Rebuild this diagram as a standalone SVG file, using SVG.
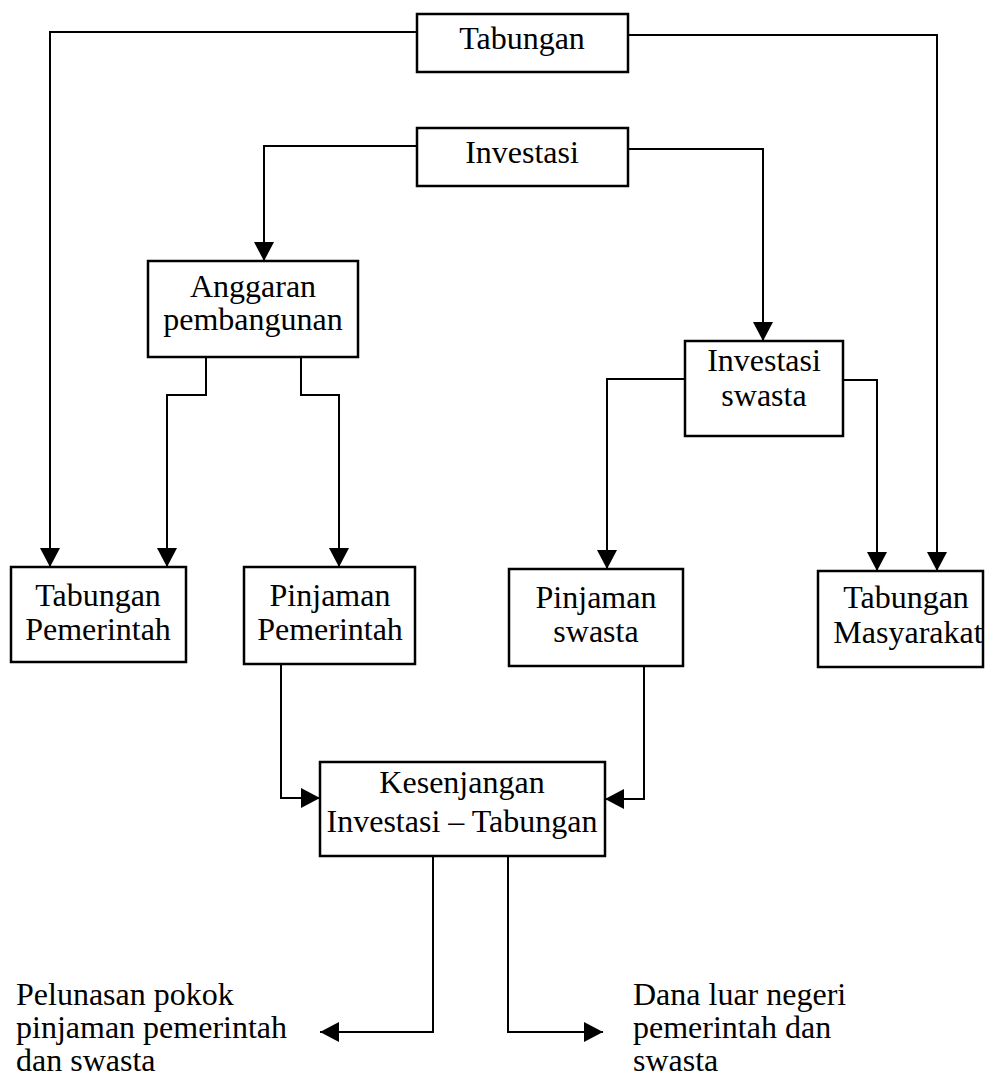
<svg xmlns="http://www.w3.org/2000/svg" width="985" height="1083" viewBox="0 0 985 1083">
<style>
.box{fill:#fff;stroke:#000;stroke-width:2.5}
.lbl{font-family:"Liberation Serif","Times New Roman",serif;font-size:32px;fill:#000}
.c{text-anchor:middle}
.conn path{fill:none;stroke:#000;stroke-width:2;marker-end:url(#ah)}
</style>
<defs>
<marker id="ah" viewBox="0 0 19 20" refX="19" refY="10" markerWidth="19" markerHeight="20" orient="auto" markerUnits="userSpaceOnUse">
<path d="M0,0 L19,10 L0,20 z" fill="#000"/>
</marker>
</defs>
<rect width="985" height="1083" fill="#fff"/>
<g id="connectors" class="conn">
<path d="M417,32 H50 V567"/>
<path d="M628,35 H937 V571"/>
<path d="M417,146 H264 V261"/>
<path d="M628,149 H763 V341"/>
<path d="M206,357 V395 H167 V567"/>
<path d="M301,357 V395 H339 V567"/>
<path d="M685,379 H607 V569"/>
<path d="M843,380 H877 V571"/>
<path d="M281,665 V798 H320"/>
<path d="M644,666 V799 H605"/>
<path d="M433,856 V1032 H320"/>
<path d="M508,856 V1032 H603"/>
</g>
<g id="tabungan">
<rect class="box" x="417" y="14" width="211" height="58"/>
<text class="lbl c" x="522" y="49">Tabungan</text>
</g>
<g id="investasi">
<rect class="box" x="417" y="128" width="211" height="58"/>
<text class="lbl c" x="522" y="163">Investasi</text>
</g>
<g id="anggaran">
<rect class="box" x="148" y="261" width="210" height="96"/>
<text class="lbl c" x="253" y="297">Anggaran</text>
<text class="lbl c" x="253" y="330">pembangunan</text>
</g>
<g id="investasi-swasta">
<rect class="box" x="685" y="341" width="158" height="95"/>
<text class="lbl c" x="764" y="371">Investasi</text>
<text class="lbl c" x="764" y="406">swasta</text>
</g>
<g id="tabungan-pemerintah">
<rect class="box" x="11" y="567" width="175" height="95"/>
<text class="lbl c" x="98" y="606">Tabungan</text>
<text class="lbl c" x="98" y="640">Pemerintah</text>
</g>
<g id="pinjaman-pemerintah">
<rect class="box" x="244" y="567" width="171" height="97"/>
<text class="lbl c" x="330" y="606">Pinjaman</text>
<text class="lbl c" x="330" y="640">Pemerintah</text>
</g>
<g id="pinjaman-swasta">
<rect class="box" x="509" y="569" width="174" height="97"/>
<text class="lbl c" x="596" y="608">Pinjaman</text>
<text class="lbl c" x="596" y="642">swasta</text>
</g>
<g id="tabungan-masyarakat">
<rect class="box" x="818" y="571" width="165" height="96"/>
<text class="lbl c" x="906" y="608">Tabungan</text>
<text class="lbl c" x="908" y="643">Masyarakat</text>
</g>
<g id="kesenjangan">
<rect class="box" x="320" y="762" width="285" height="94"/>
<text class="lbl c" x="462" y="793">Kesenjangan</text>
<text class="lbl c" x="462" y="832">Investasi – Tabungan</text>
</g>
<g id="pelunasan">
<text class="lbl" x="16" y="1005">Pelunasan pokok</text>
<text class="lbl" x="16" y="1038">pinjaman pemerintah</text>
<text class="lbl" x="16" y="1071">dan swasta</text>
</g>
<g id="dana-luar-negeri">
<text class="lbl" x="633" y="1005">Dana luar negeri</text>
<text class="lbl" x="633" y="1038">pemerintah dan</text>
<text class="lbl" x="633" y="1071">swasta</text>
</g>
</svg>
